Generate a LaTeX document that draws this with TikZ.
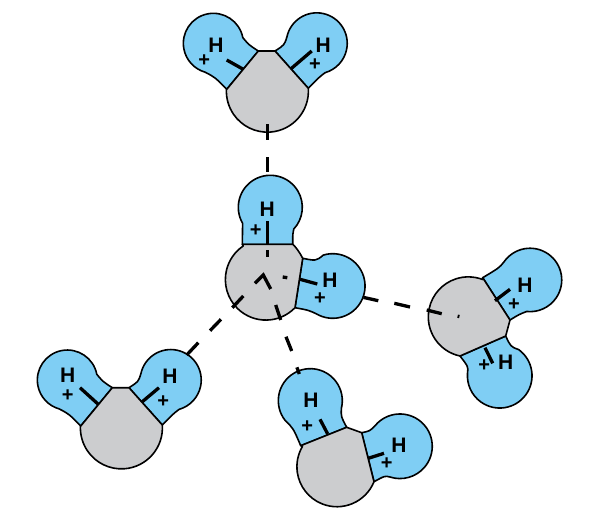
\documentclass[tikz,border=0pt]{standalone}
\usepackage{fontspec}
\setmainfont{Liberation Sans}
\definecolor{lobeblue}{HTML}{7FCEF4}
\definecolor{bodygray}{HTML}{CCCDCF}
\tikzset{
  lobe/.style={draw=black,fill=lobeblue,line width=1.6pt,line join=round},
  body/.style={draw=black,fill=bodygray,line width=1.6pt,line join=round},
  bond/.style={draw=black,line width=3.3pt},
  hlabel/.style={font=\fontsize{21}{22}\selectfont\bfseries,inner sep=0pt},
  plabel/.style={font=\fontsize{20}{21}\selectfont\bfseries,inner sep=0pt}
}
% #1 neck start, #2 control, #3 arc start, #4 start angle, #5 end angle, #6 radius, #7 control, #8 neck end
\newcommand{\lobeshape}[8]{\path[lobe] (#1) .. controls (#2) .. (#3) arc[start angle=#4,end angle=#5,radius=#6] .. controls (#7) .. (#8) -- cycle;}
\newcommand{\vmolecule}{%
  \lobeshape{258.3,51}{249,45}{242.8,37.6}{-11}{-254}{30}{215,77.3}{226.7,89.3}
  \lobeshape{275,51}{284.4,45}{286.9,37}{192}{434}{30.5}{319,77.3}{308.3,88.3}
  \path[body] (258.3,51) -- (275,51) -- (308.3,88.3) arc[start angle=-4,end angle=182,radius=41] -- cycle;
}
\begin{document}
\begin{tikzpicture}[x=1pt,y=-1pt]
\useasboundingbox (0,0) rectangle (600,517);
% top molecule
\vmolecule
% left molecule
\begin{scope}[shift={(-146,336.7)}]
\vmolecule
\end{scope}
% centre molecule
\lobeshape{242.3,244.3}{242.5,232}{242.6,223.3}{150}{403}{32}{292.7,234}{292.7,244.3}
\lobeshape{302.7,258.3}{316,261}{323.3,255.1}{253}{475}{32.3}{309.3,310.3}{295,307.7}
\path[body] (242.3,244.3) -- (292.7,244.3) .. controls (296,247) and (300,253) .. (302.7,258.3) -- (295,307.7) arc[start angle=44,end angle=236,radius=40.5] -- cycle;
% right molecule
\lobeshape{482.7,277.7}{499.3,267.7}{503.9,262}{214.5}{456}{31.7}{519.3,314.3}{510,320}
\lobeshape{505.7,336}{510.7,346.7}{518.7,349.6}{-54}{185}{32.3}{468.3,366.7}{460,356}
\path[body] (482.7,277.7) -- (510,320) -- (505.7,336) -- (460,356) arc[start angle=102,end angle=291,radius=40] -- cycle;
% bottom molecule
\lobeshape{300.7,445.7}{293.3,428.3}{284.9,420.1}{142.6}{373.8}{32}{341,416.7}{346.7,427.3}
\lobeshape{361.7,432.7}{370,431}{375.4,425.3}{220.5}{468}{32.3}{385,475.7}{374,481.7}
\path[body] (300.7,445.7) -- (346.7,427.3) -- (361.7,432.7) -- (374,481.7) arc[start angle=22,end angle=210.6,radius=40] -- cycle;
% bonds inside the molecules
\draw[bond] (226.7,60) -- (243.3,69.3);
\draw[bond] (311.7,51) -- (290.7,69);
\draw[bond] (267.3,221) -- (267.3,244);
\draw[bond] (300,279.3) -- (317.3,284);
\draw[bond] (510,289.3) -- (495,300.7);
\draw[bond] (485,347.7) -- (492.7,363.3);
\draw[bond] (80,387.7) -- (98.3,404.3);
\draw[bond] (159,387.7) -- (142.3,401.7);
\draw[bond] (320,419.3) -- (327.7,434);
\draw[bond] (384,453.3) -- (368.3,458.3);
% hydrogen bonds
\draw[bond] (267.3,124) -- (267.3,140);
\draw[bond] (267.3,157) -- (267.3,172);
\draw[bond] (267.3,250) -- (267.3,257);
\draw[bond] (255,283.3) -- (263.3,275) -- (270.7,289);
\draw[bond] (282.7,277) -- (287.3,277.7);
\draw[bond] (363.5,297.4) -- (378.3,300.7);
\draw[bond] (394.3,303.3) -- (410,307);
\draw[bond] (426.7,310) -- (441.7,313.7);
\draw[bond] (457.6,316.2) -- (459.4,316.6);
\draw[bond] (243.3,296) -- (232.3,307.7);
\draw[bond] (221,319.3) -- (210,330.7);
\draw[bond] (198.3,342.7) -- (186.7,355);
\draw[bond] (275.7,305) -- (280.7,320);
\draw[bond] (286,336.7) -- (291.7,351);
\draw[bond] (296.9,367.3) -- (299.3,374);
% labels
\node[hlabel] (h1) at (216,45) {H};
\node[plabel] (p1) at (204.3,60.7) {+};
\node[hlabel] (h2) at (323.3,45) {H};
\node[plabel] (p2) at (315,65) {+};
\node[hlabel] (h3) at (267.3,209) {H};
\node[plabel] (p3) at (255.7,231) {+};
\node[hlabel] (h4) at (330,280) {H};
\node[plabel] (p4) at (320,298.3) {+};
\node[hlabel] (h5) at (525,285) {H};
\node[plabel] (p5) at (514,304.3) {+};
\node[hlabel] (h6) at (505.7,362.3) {H};
\node[plabel] (p6) at (484.3,366) {+};
\node[hlabel] (h7) at (67.7,375.5) {H};
\node[plabel] (p7) at (67.7,396) {+};
\node[hlabel] (h8) at (170,376) {H};
\node[plabel] (p8) at (163.3,401.7) {+};
\node[hlabel] (h9) at (311,400) {H};
\node[plabel] (p9) at (307.3,426.7) {+};
\node[hlabel] (h10) at (399,445.7) {H};
\node[plabel] (p10) at (386.7,463.3) {+};
\end{tikzpicture}
\end{document}
